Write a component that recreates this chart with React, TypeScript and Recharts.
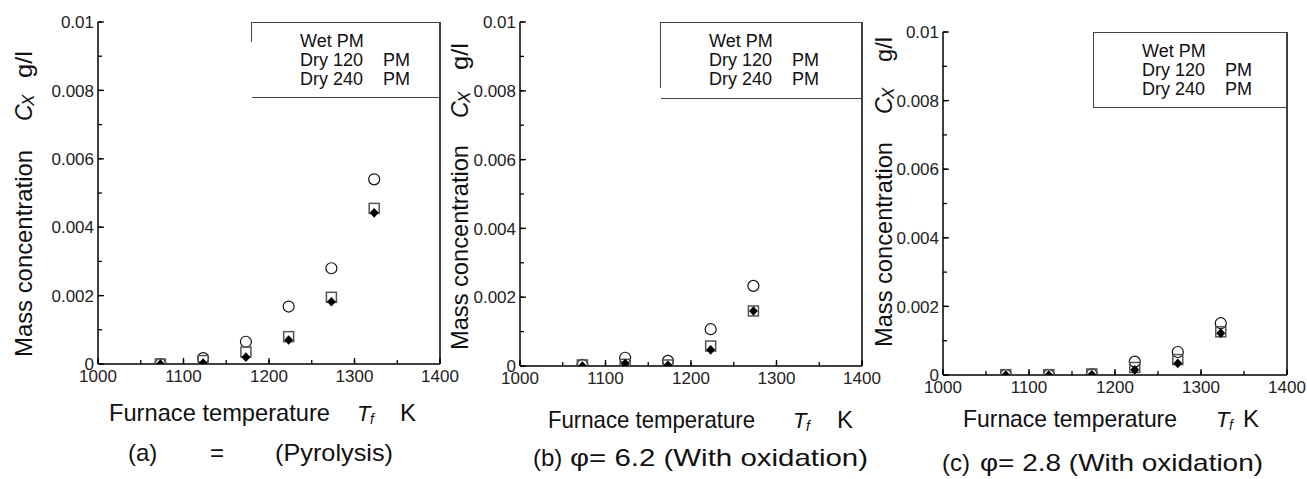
import React from 'react';
import { ScatterChart, Scatter, XAxis, YAxis, ReferenceLine, Legend } from 'recharts';

const FONT = '"Liberation Sans", Arial, Helvetica, sans-serif';

// ---------- data ----------
const seriesNames = ['Wet PM', 'Dry 120   PM', 'Dry 240   PM'];

const tempsA = [1073, 1123, 1173, 1223, 1273, 1323];
const wetA = [0, 0.00017, 0.00065, 0.00168, 0.0028, 0.0054];
const dry120A = [0, 0.0001, 0.00035, 0.0008, 0.00195, 0.00455];
const dry240A = [0, 0.00003, 0.0002, 0.0007, 0.00182, 0.00442];

const tempsB = [1073, 1123, 1173, 1223, 1273];
const wetB = [0.00003, 0.00024, 0.00015, 0.00107, 0.00233];
const dry120B = [0.00003, 0.00005, 0.00003, 0.00058, 0.0016];
const dry240B = [0, 0.00007, 0.00002, 0.00047, 0.0016];

const tempsC = [1073, 1123, 1173, 1223, 1273, 1323];
const wetC = [0, 0, 0.00002, 0.00039, 0.00067, 0.00151];
const dry120C = [0.00001, 0.00001, 0.00003, 0.00022, 0.00045, 0.00126];
const dry240C = [0, 0, 0.00001, 0.00015, 0.00034, 0.00122];

const xMajorTicks = [1000, 1100, 1200, 1300, 1400];
const xMinorTicks = [1050, 1150, 1250, 1350];
const xTickLabels = ['1000', '1100', '1200', '1300', '1400'];
const yMajorTicks = [0, 0.002, 0.004, 0.006, 0.008, 0.01];
const yMinorTicks = [0.001, 0.003, 0.005, 0.007, 0.009];
const yTickLabels = ['0', '0.002', '0.004', '0.006', '0.008', '0.01'];

const yTitleMain = 'Mass concentration';
const yTitleSym = 'C';
const yTitleSub = 'X';
const yTitleUnit = 'g/l';
const xTitleMain = 'Furnace temperature';
const xTitleSym = 'T';
const xTitleSub = 'f';
const xTitleUnit = 'K';

const captionTags = ['(a)', '(b)', '(c)'];
const captionTexts = ['(Pyrolysis)', 'φ= 6.2 (With oxidation)', 'φ= 2.8 (With oxidation)'];
const captionEq = '=';

// ---------- layout ----------
const H = 479;
const Y_AXIS_W = 60;
const X_AXIS_H = 30;
const MINOR_TICK = 4; // inward tick length (all ticks)
const MAJOR_TICK = 6; // inward tick length (labelled ticks)
const Y_LABEL_GAP = 4; // gap between axis and y tick label
const X_LABEL_GAP = 6; // gap between axis and x tick label

const panels = [
  {
    chartLeft: 0, chartWidth: 470, plotLeft: 98, plotTop: 22, plotRight: 440, plotBottom: 364,
    legend: { left: 252, top: 22, width: 188, height: 76, leftLine: 20 },
    yT: { bx: 32, start: 357, len: 207, c: 236, x: 251, gl: 279, glLen: 27 },
    xT: { base: 421, f: 109, len: 221, t: 357, k: 400 },
    cap: { base: 461, tag: 128, eq: 210, text: 275, len: 118 },
  },
  {
    chartLeft: 445, chartWidth: 450, plotLeft: 520, plotTop: 22, plotRight: 862, plotBottom: 366,
    legend: { left: 661, top: 22, width: 201, height: 77, leftLine: 66 },
    yT: { bx: 23, start: 350, len: 205, c: 232, x: 247, gl: 280, glLen: 27 },
    xT: { base: 428, f: 103, len: 207, t: 348, k: 392 },
    cap: { base: 466, tag: 533, eq: 0, text: 570, len: 298 },
  },
  {
    chartLeft: 870, chartWidth: 437, plotLeft: 943, plotTop: 32, plotRight: 1287, plotBottom: 375,
    legend: { left: 1094, top: 32, width: 193, height: 76, leftLine: 76 },
    yT: { bx: 22, start: 347, len: 205, c: 233, x: 248, gl: 285, glLen: 25 },
    xT: { base: 427, f: 93, len: 214, t: 346, k: 373 },
    cap: { base: 471, tag: 942, eq: 0, text: 980, len: 283 },
  },
];

const toPoints = (temps: number[], vals: number[]) => temps.map((t, i) => ({ x: t, y: vals[i] }));

const panelData = [
  [toPoints(tempsA, wetA), toPoints(tempsA, dry120A), toPoints(tempsA, dry240A)],
  [toPoints(tempsB, wetB), toPoints(tempsB, dry120B), toPoints(tempsB, dry240B)],
  [toPoints(tempsC, wetC), toPoints(tempsC, dry120C), toPoints(tempsC, dry240C)],
];

const xTicks = [...xMajorTicks, ...xMinorTicks].sort((a, b) => a - b);
const yTicks = [...yMajorTicks, ...yMinorTicks].sort((a, b) => a - b);

const findIdx = (arr: number[], v: number) => arr.findIndex((t) => Math.abs(t - v) < 1e-9);

// ---------- shapes ----------
const OpenCircle = (p: any) =>
  p.cx == null ? <g /> : <circle cx={p.cx} cy={p.cy} r={5.5} fill="none" stroke="#111" strokeWidth={1.2} />;
const OpenSquare = (p: any) =>
  p.cx == null ? <g /> : (
    <rect x={p.cx - 5} y={p.cy - 5} width={10} height={10} fill="none" stroke="#555" strokeWidth={1.5} />
  );
const Diamond = (p: any) =>
  p.cx == null ? <g /> : (
    <path
      d={`M${p.cx},${p.cy - 4.8} L${p.cx + 4.5},${p.cy} L${p.cx},${p.cy + 4.8} L${p.cx - 4.5},${p.cy} Z`}
      fill="#000"
    />
  );
const shapes = [OpenCircle, OpenSquare, Diamond];

// ---------- tick labels (minor tick lines from the axis, major ones extended here) ----------
const renderYTick = (props: any) => {
  const { x, y, payload } = props;
  const idx = findIdx(yMajorTicks, payload.value);
  if (idx < 0) return <g />;
  const ax = x + Y_LABEL_GAP;
  return (
    <g>
      <line x1={ax} x2={ax + MAJOR_TICK} y1={y} y2={y} stroke="#000" strokeWidth={1.3} />
      <text x={x} y={y} dy="0.36em" textAnchor="end" fontSize={17} fill="#222" fontFamily={FONT}>
        {yTickLabels[idx]}
      </text>
    </g>
  );
};

const renderXTick = (props: any) => {
  const { x, y, payload } = props;
  const idx = findIdx(xMajorTicks, payload.value);
  if (idx < 0) return <g />;
  const ay = y - X_LABEL_GAP;
  return (
    <g>
      <line x1={x} x2={x} y1={ay} y2={ay - MAJOR_TICK} stroke="#000" strokeWidth={1.3} />
      <text x={x} y={y} dy="0.72em" textAnchor="middle" fontSize={17} fill="#222" fontFamily={FONT}>
        {xTickLabels[idx]}
      </text>
    </g>
  );
};

// ---------- titles ----------
const YTitle = ({ t }: any) => (
  <g transform={`translate(${t.bx},${t.start}) rotate(-90)`} fontFamily={FONT} fill="#111">
    <text x={0} y={0} fontSize={24} textLength={t.len} lengthAdjust="spacingAndGlyphs">
      {yTitleMain}
    </text>
    <text x={t.c} y={0} fontSize={23} fontStyle="italic">
      {yTitleSym}
    </text>
    <text x={t.x} y={2} fontSize={17} fontStyle="italic">
      {yTitleSub}
    </text>
    <text x={t.gl} y={0} fontSize={24} textLength={t.glLen} lengthAdjust="spacingAndGlyphs">
      {yTitleUnit}
    </text>
  </g>
);

const XTitle = ({ t }: any) => (
  <g fontFamily={FONT} fill="#111">
    <text x={t.f} y={t.base} fontSize={24} textLength={t.len} lengthAdjust="spacingAndGlyphs">
      {xTitleMain}
    </text>
    <text x={t.t} y={t.base} fontSize={22} fontStyle="italic">
      {xTitleSym}
    </text>
    <text x={t.t + 13} y={t.base + 3} fontSize={14} fontStyle="italic">
      {xTitleSub}
    </text>
    <text x={t.k} y={t.base} fontSize={24}>
      {xTitleUnit}
    </text>
  </g>
);

const LegendBox = ({ payload, leftLine }: any) => {
  const items = [...(payload || [])].sort(
    (a: any, b: any) => seriesNames.indexOf(String(a.value)) - seriesNames.indexOf(String(b.value))
  );
  return (
    <div
      style={{
        position: 'relative',
        width: '100%',
        height: '100%',
        boxSizing: 'border-box',
        borderTop: '1.5px solid #444',
        borderBottom: '1.5px solid #444',
        fontFamily: FONT,
        fontSize: 18,
        color: '#111',
      }}
    >
      <div
        style={{ position: 'absolute', left: -1, top: -1.5, width: 0, height: leftLine, borderLeft: '1.5px solid #444' }}
      />
      {items.map((e: any, i: number) => {
        const parts = String(e.value).split(/\s{2,}/);
        return (
          <React.Fragment key={i}>
            <div style={{ position: 'absolute', left: 48, top: 9 + 19 * i, lineHeight: '19px', whiteSpace: 'nowrap' }}>
              {parts[0]}
            </div>
            {parts[1] && (
              <div style={{ position: 'absolute', left: 131, top: 9 + 19 * i, lineHeight: '19px', whiteSpace: 'nowrap' }}>
                {parts[1]}
              </div>
            )}
          </React.Fragment>
        );
      })}
    </div>
  );
};

const Panel = ({ cfg, data }: any) => {
  const plotL = cfg.plotLeft - cfg.chartLeft;
  const plotR = cfg.plotRight - cfg.chartLeft;
  const margin = {
    top: cfg.plotTop,
    left: plotL - Y_AXIS_W,
    right: cfg.chartWidth - plotR,
    bottom: H - cfg.plotBottom - X_AXIS_H,
  };
  return (
    <div style={{ position: 'absolute', left: cfg.chartLeft, top: 0 }}>
      <ScatterChart width={cfg.chartWidth} height={H} margin={margin}>
        <XAxis
          type="number"
          dataKey="x"
          domain={[1000, 1400]}
          ticks={xTicks}
          interval={0}
          tickSize={-MINOR_TICK}
          tickMargin={MINOR_TICK + X_LABEL_GAP}
          tickLine={{ stroke: '#000', strokeWidth: 1.3 }}
          tick={renderXTick}
          axisLine={{ stroke: '#000', strokeWidth: 1.5 }}
          height={X_AXIS_H}
          allowDataOverflow
          label={<XTitle t={cfg.xT} />}
        />
        <YAxis
          type="number"
          dataKey="y"
          domain={[0, 0.01]}
          ticks={yTicks}
          interval={0}
          tickSize={-MINOR_TICK}
          tickMargin={MINOR_TICK + Y_LABEL_GAP}
          tickLine={{ stroke: '#000', strokeWidth: 1.3 }}
          tick={renderYTick}
          axisLine={{ stroke: '#000', strokeWidth: 1.5 }}
          width={Y_AXIS_W}
          allowDataOverflow
          label={<YTitle t={cfg.yT} />}
        />
        <ReferenceLine x={1400} stroke="#000" strokeWidth={1.5} />
        {data.map((d: any, i: number) => (
          <Scatter key={i} name={seriesNames[i]} data={d} shape={shapes[i]} isAnimationActive={false} />
        ))}
        <Legend
          layout="horizontal"
          verticalAlign="middle"
          align="center"
          wrapperStyle={{
            left: cfg.legend.left - cfg.chartLeft,
            top: cfg.legend.top,
            width: cfg.legend.width,
            height: cfg.legend.height,
            margin: 0,
            padding: 0,
          }}
          content={(p: any) => <LegendBox payload={p.payload} leftLine={cfg.legend.leftLine} />}
        />
      </ScatterChart>
    </div>
  );
};

export default function App() {
  return (
    <div style={{ position: 'absolute', left: 0, top: 0, width: 1307, height: H, background: '#fff', overflow: 'hidden' }}>
      {panels.map((cfg, i) => (
        <Panel key={i} cfg={cfg} data={panelData[i]} />
      ))}
      <svg
        width={1307}
        height={H}
        style={{ position: 'absolute', left: 0, top: 0, pointerEvents: 'none' }}
        fontFamily={FONT}
        fill="#111"
      >
        {panels.map((cfg, i) => (
          <g key={i}>
            <text x={cfg.cap.tag} y={cfg.cap.base} fontSize={24}>
              {captionTags[i]}
            </text>
            {cfg.cap.eq > 0 && (
              <text x={cfg.cap.eq} y={cfg.cap.base} fontSize={24}>
                {captionEq}
              </text>
            )}
            <text x={cfg.cap.text} y={cfg.cap.base} fontSize={24} textLength={cfg.cap.len} lengthAdjust="spacingAndGlyphs">
              {captionTexts[i]}
            </text>
          </g>
        ))}
      </svg>
    </div>
  );
}
